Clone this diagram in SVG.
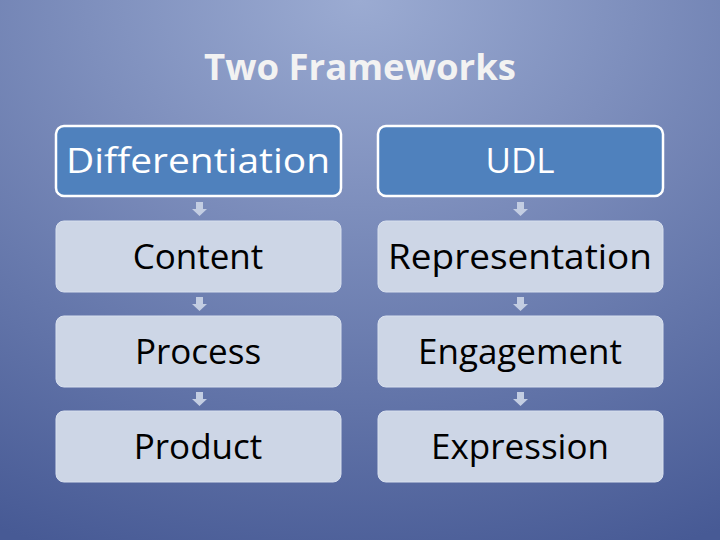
<svg xmlns="http://www.w3.org/2000/svg" width="720" height="540" viewBox="0 0 720 540">
<defs>
<radialGradient id="bg" cx="0.5" cy="0" r="1.1">
<stop offset="0" stop-color="#9babd2"/>
<stop offset="1" stop-color="#475a95"/>
</radialGradient>
</defs>
<style>
.hd{fill:#4f81bd;stroke:#fff;stroke-width:2.5}
.bx{fill:#cdd6e6;stroke:#d8e0ee;stroke-width:1}
.t{font-family:"Open Sans","Liberation Sans",sans-serif;font-size:35px;text-anchor:middle}
.w{fill:#fff}
.k{fill:#000}
.ar{fill:#c3cde2}
</style>
<rect width="720" height="540" fill="url(#bg)"/>
<text x="360" y="80" font-family="'Open Sans',sans-serif" font-weight="bold" font-size="36" fill="#f2f2f2" text-anchor="middle" textLength="312" lengthAdjust="spacingAndGlyphs">Two Frameworks</text>
<g id="connectors">
<path class="ar" d="M196,202h7v7h4l-7.5,7l-7.5,-7h4z"/>
<path class="ar" d="M196,297h7v7h4l-7.5,7l-7.5,-7h4z"/>
<path class="ar" d="M196,392h7v7h4l-7.5,7l-7.5,-7h4z"/>
<path class="ar" d="M517,202h7v7h4l-7.5,7l-7.5,-7h4z"/>
<path class="ar" d="M517,297h7v7h4l-7.5,7l-7.5,-7h4z"/>
<path class="ar" d="M517,392h7v7h4l-7.5,7l-7.5,-7h4z"/>
</g>
<g id="n-diff"><rect class="hd" x="56" y="126" width="285" height="70" rx="8"/><text class="t w" x="198" y="173" textLength="264" lengthAdjust="spacingAndGlyphs">Differentiation</text></g>
<g id="n-content"><rect class="bx" x="56" y="221" width="285" height="71" rx="8"/><text class="t k" x="198" y="269">Content</text></g>
<g id="n-process"><rect class="bx" x="56" y="316" width="285" height="71" rx="8"/><text class="t k" x="198" y="364">Process</text></g>
<g id="n-product"><rect class="bx" x="56" y="411" width="285" height="71" rx="8"/><text class="t k" x="198" y="459">Product</text></g>
<g id="n-udl"><rect class="hd" x="378" y="126" width="285" height="70" rx="8"/><text class="t w" x="520" y="173">UDL</text></g>
<g id="n-rep"><rect class="bx" x="378" y="221" width="285" height="71" rx="8"/><text class="t k" x="520" y="269" textLength="264" lengthAdjust="spacingAndGlyphs">Representation</text></g>
<g id="n-eng"><rect class="bx" x="378" y="316" width="285" height="71" rx="8"/><text class="t k" x="520" y="364">Engagement</text></g>
<g id="n-exp"><rect class="bx" x="378" y="411" width="285" height="71" rx="8"/><text class="t k" x="520" y="459">Expression</text></g>
</svg>
